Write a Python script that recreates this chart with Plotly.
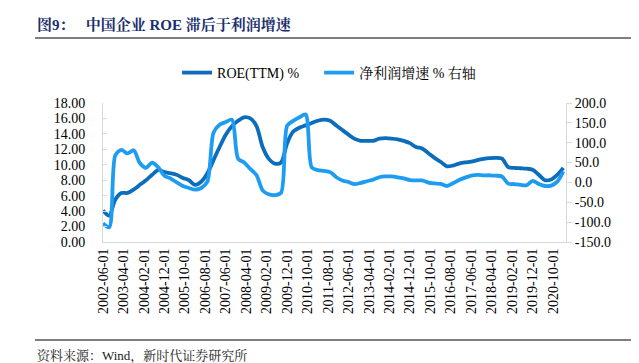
import pandas as pd
import plotly.graph_objects as go

# ---- data (quarterly) ----
dates = pd.date_range(start="2002-06-01", periods=76, freq="3MS")

roe_ttm = [4.1, 3.4, 5.5, 6.35, 6.35, 6.8, 7.4, 8.0, 8.7, 9.35,
           9.05, 8.9, 8.7, 8.3, 8.0, 7.4, 7.8, 8.9, 10.6, 12.3,
           13.9, 15.0, 15.7, 16.15, 16.0, 15.0, 12.3, 10.8, 10.15, 10.3,
           12.8, 14.3, 14.8, 15.1, 15.4, 15.7, 15.85, 15.7, 15.1, 14.5,
           13.9, 13.35, 13.1, 13.1, 13.1, 13.4, 13.45, 13.4, 13.3, 13.1,
           12.8, 12.3, 12.1, 11.5, 10.9, 10.4, 9.8, 9.9, 10.15, 10.3,
           10.4, 10.6, 10.75, 10.85, 10.9, 10.8, 9.7, 9.6, 9.55, 9.5,
           9.35, 8.7, 8.0, 8.1, 8.7, 9.6]

profit_growth = [-103, -113, 68, 82, 73, 81, 49, 37, 50, 38,
                 17, 10, 0, -9, -14, -18, -14, 2, 125, 145,
                 152, 158, 60, 50, 34, 18, -20, -30, -32, -26,
                 143, 155, 164, 171, 38, 31, 29, 26, 13, 5,
                 1, -4.5, -1, 3, 7, 13, 15, 15, 13, 10,
                 6, 5, 5, -0.5, -2.5, -3.5, -9, -2, 6, 12,
                 17, 19, 18, 18, 17, 15, -3, -4, -6, -7,
                 4, -4, -9, -8, 2, 28]

x_tick_labels = ["2002-06-01", "2003-04-01", "2004-02-01", "2004-12-01", "2005-10-01",
                 "2006-08-01", "2007-06-01", "2008-04-01", "2009-02-01", "2009-12-01",
                 "2010-10-01", "2011-08-01", "2012-06-01", "2013-04-01", "2014-02-01",
                 "2014-12-01", "2015-10-01", "2016-08-01", "2017-06-01", "2018-04-01",
                 "2019-02-01", "2019-12-01", "2020-10-01"]

left_ticks = [0, 2, 4, 6, 8, 10, 12, 14, 16, 18]
right_ticks = [-150, -100, -50, 0, 50, 100, 150, 200]

series_names = ["ROE(TTM) %", "净利润增速 % 右轴"]
title_text = "图9：   中国企业 ROE 滞后于利润增速"
source_text = "资料来源：Wind，新时代证券研究所"

# ---- layout geometry (pixels) ----
W, H = 639, 363
PL, PR, PT, PB = 95, 557.7, 95, 234


def px2x(px):
    return (px - PL) / (PR - PL)


def px2y(py):
    return (PB - py) / (PB - PT)


FONT = "Liberation Serif, Times New Roman, Noto Serif CJK SC, Noto Sans CJK SC, serif"
DARK = "#0B6DBB"
LIGHT = "#1E9CF2"
AXIS = "#D9D9D9"

fig = go.Figure()
fig.add_trace(go.Scatter(
    x=dates, y=roe_ttm, name=series_names[0], mode="lines",
    line=dict(color=DARK, width=3.8, shape="spline", smoothing=0.8),
    yaxis="y", legend="legend"))
fig.add_trace(go.Scatter(
    x=dates, y=profit_growth, name=series_names[1], mode="lines",
    line=dict(color=LIGHT, width=3.8, shape="spline", smoothing=0.8),
    yaxis="y2", legend="legend2"))

legend_common = dict(orientation="h", xanchor="left", yanchor="middle",
                     y=px2y(65), font=dict(family=FONT, size=14, color="#000000"),
                     bgcolor="rgba(0,0,0,0)", itemwidth=30)

fig.update_layout(
    width=W, height=H,
    margin=dict(l=PL, r=W - PR, t=PT, b=H - PB, pad=0, autoexpand=False),
    paper_bgcolor="white", plot_bgcolor="white",
    font=dict(family=FONT, size=14, color="#000000"),
    showlegend=True,
    legend=dict(x=px2x(169), **legend_common),
    legend2=dict(x=px2x(311), **legend_common),
    xaxis=dict(
        type="date", automargin=False,
        range=["2002-06-01", "2021-04-10"],
        tickmode="array",
        tickvals=[pd.Timestamp(t) for t in x_tick_labels],
        ticktext=x_tick_labels,
        tickangle=-90,
        showgrid=False, zeroline=False,
        showline=True, linecolor=AXIS, linewidth=1,
        ticks="", tickfont=dict(family=FONT, size=14, color="#000000"),
    ),
    yaxis=dict(
        range=[0, 18], automargin=False,
        tickmode="array", tickvals=left_ticks,
        ticktext=[f"{v:.2f}" for v in left_ticks],
        showgrid=False, zeroline=False,
        showline=True, linecolor=AXIS, linewidth=1,
        ticks="inside", ticklen=4, tickcolor=AXIS,
        ticklabelstandoff=14,
        tickfont=dict(family=FONT, size=14, color="#000000"),
    ),
    yaxis2=dict(
        range=[-150, 200], overlaying="y", side="right", automargin=False,
        tickmode="array", tickvals=right_ticks,
        ticktext=[f"{v:.1f}" for v in right_ticks],
        showgrid=False, zeroline=False,
        showline=True, linecolor=AXIS, linewidth=1,
        ticks="outside", ticklen=5, tickcolor=AXIS,
        tickfont=dict(family=FONT, size=14, color="#000000"),
    ),
)

# title
fig.add_annotation(
    text="<b>" + title_text + "</b>", xref="paper", yref="paper",
    x=px2x(27), y=px2y(17), xanchor="left", yanchor="middle",
    showarrow=False, font=dict(family=FONT, size=15, color="#1B2F6E"))
# rule under title
fig.add_shape(type="line", xref="paper", yref="paper",
              x0=px2x(27), x1=px2x(630), y0=px2y(30), y1=px2y(30),
              line=dict(color="#000000", width=1.2))
# rule above source
fig.add_shape(type="line", xref="paper", yref="paper",
              x0=px2x(27), x1=px2x(630), y0=px2y(332), y1=px2y(332),
              line=dict(color="#555555", width=1.5))
# source
fig.add_annotation(
    text=source_text, xref="paper", yref="paper",
    x=px2x(27), y=px2y(348), xanchor="left", yanchor="middle",
    showarrow=False, font=dict(family=FONT, size=13, color="#222222"))

fig.write_html("out.html")
